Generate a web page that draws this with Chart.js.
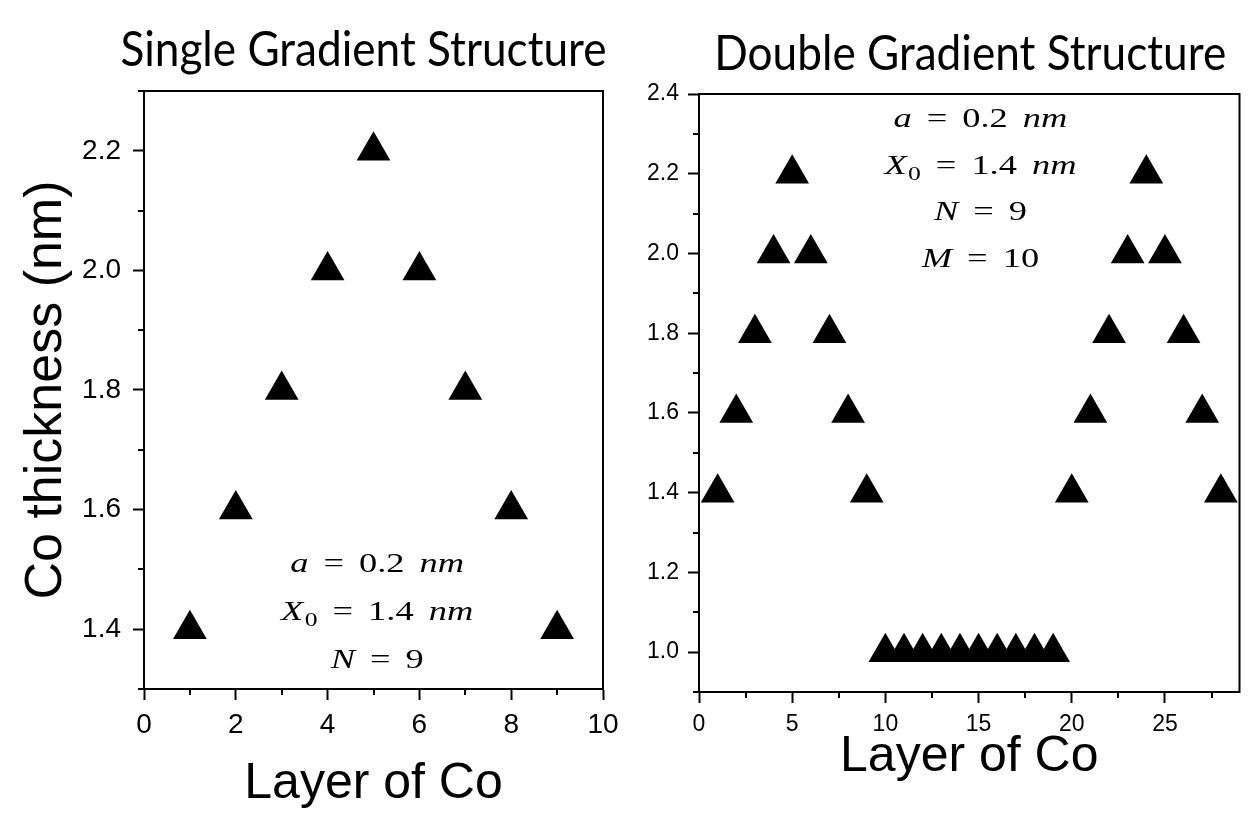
<!DOCTYPE html>
<html>
<head>
<meta charset="utf-8">
<script src="https://cdn.jsdelivr.net/npm/chart.js@4.4.1/dist/chart.umd.min.js"></script>
<style>
  html, body { margin: 0; padding: 0; background: #fff; }
  #wrap { position: relative; width: 1259px; height: 828px; overflow: hidden; background: #fff; }
  #single { position: absolute; left: 0; top: 0; }
  #double { position: absolute; left: 630px; top: 0; }
</style>
</head>
<body>
<div id="wrap">
  <canvas id="single" width="630" height="828"></canvas>
  <canvas id="double" width="629" height="828"></canvas>
</div>
<script>
// single gradient: thickness ramps up then down over N = 9 layers
const singleLayers = [1, 2, 3, 4, 5, 6, 7, 8, 9];
const singleThickness = [1.4, 1.6, 1.8, 2.0, 2.2, 2.0, 1.8, 1.6, 1.4];

// double gradient: two ramps separated by M = 10 thin layers
const doubleLayers = [1, 2, 3, 4, 5, 6, 7, 8, 9, 10, 11, 12, 13, 14, 15, 16, 17, 18, 19, 20,
  21, 22, 23, 24, 25, 26, 27, 28];
const doubleThickness = [1.4, 1.6, 1.8, 2.0, 2.2, 2.0, 1.8, 1.6, 1.4,
  1.0, 1.0, 1.0, 1.0, 1.0, 1.0, 1.0, 1.0, 1.0, 1.0,
  1.4, 1.6, 1.8, 2.0, 2.2, 2.0, 1.8, 1.6, 1.4];

// axis ranges
const singleXRange = [0, 10];
const singleYRange = [1.3, 2.3];
const doubleXRange = [0, 29];
const doubleYRange = [0.9, 2.4];

// labelled ticks
const singleXTicks = [0, 2, 4, 6, 8, 10];
const singleYTicks = [1.4, 1.6, 1.8, 2.0, 2.2];
const doubleXTicks = [0, 5, 10, 15, 20, 25];
const doubleYTicks = [1.0, 1.2, 1.4, 1.6, 1.8, 2.0, 2.2, 2.4];

// unlabelled minor ticks
const singleXMinor = [1, 3, 5, 7, 9];
const singleYMinor = [1.3, 1.5, 1.7, 1.9, 2.1, 2.3];
const doubleXMinor = [2.5, 7.5, 12.5, 17.5, 22.5, 27.5];
const doubleYMinor = [0.9, 1.1, 1.3, 1.5, 1.7, 1.9, 2.1, 2.3];

// parameter notes: [text, italic, unused, subscript] pieces per line
const singleNote = [
  [['a', 1], ['='], ['0.2'], ['nm', 1]],
  [['X', 1, 0, ['0']], ['='], ['1.4'], ['nm', 1]],
  [['N', 1], ['='], ['9']],
];
const doubleNote = [
  [['a', 1], ['='], ['0.2'], ['nm', 1]],
  [['X', 1, 0, ['0']], ['='], ['1.4'], ['nm', 1]],
  [['N', 1], ['='], ['9']],
  [['M', 1], ['='], ['10']],
];
// anchor of the first note line (data coordinates)
const singleNoteAt = { x: 5.08, y: 1.495 };
const doubleNoteAt = { x: 15.1, y: 2.3175 };

const SANS = "'Liberation Sans', Arial, sans-serif";
const SERIF = "'Liberation Serif', 'Times New Roman', serif";
const TITLE_FONT = "Lato, 'Open Sans', sans-serif";

function drawNote(ctx, lines, cx, baseY, lineGap) {
  const size = 27;
  const stretch = 1.35;
  const gap = 15;
  lines.forEach((pieces, li) => {
    // measure the line first so it can be centred
    const parts = [];
    let w = 0;
    pieces.forEach((p, i) => {
      ctx.font = `${p[1] ? 'italic ' : ''}${size}px ${SERIF}`;
      const mw = ctx.measureText(p[0]).width;
      let sw = 0;
      if (p[3]) {
        ctx.font = `${Math.round(size * 0.72)}px ${SERIF}`;
        sw = ctx.measureText(p[3][0]).width + 1;
      }
      parts.push({ p, x: w, mw });
      w += mw + sw + (i < pieces.length - 1 ? gap / stretch : 0);
    });
    const y = baseY + li * lineGap;
    ctx.save();
    ctx.translate(cx - (w * stretch) / 2, y);
    ctx.scale(stretch, 1);
    ctx.fillStyle = '#000';
    ctx.textBaseline = 'alphabetic';
    ctx.textAlign = 'left';
    parts.forEach(({ p, x, mw }) => {
      ctx.font = `${p[1] ? 'italic ' : ''}${size}px ${SERIF}`;
      ctx.fillText(p[0], x, 0);
      if (p[3]) {
        ctx.font = `${Math.round(size * 0.72)}px ${SERIF}`;
        ctx.fillText(p[3][0], x + mw + 1, 6);
      }
    });
    ctx.restore();
  });
}

function panelPlugin(cfg) {
  return {
    id: 'panel-' + cfg.id,
    afterDraw(chart) {
      const { ctx, chartArea: a, scales } = chart;
      ctx.save();
      ctx.strokeStyle = '#000';
      ctx.lineWidth = 2;
      ctx.strokeRect(a.left, a.top, a.right - a.left, a.bottom - a.top);

      // minor ticks, half length, pointing out
      ctx.beginPath();
      cfg.xMinor.forEach((v) => {
        const px = Math.round(scales.x.getPixelForValue(v));
        ctx.moveTo(px, a.bottom);
        ctx.lineTo(px, a.bottom + 6);
      });
      cfg.yMinor.forEach((v) => {
        const py = Math.round(scales.y.getPixelForValue(v));
        ctx.moveTo(a.left - 6, py);
        ctx.lineTo(a.left, py);
      });
      ctx.stroke();

      // panel heading
      ctx.save();
      ctx.fillStyle = '#000';
      ctx.textAlign = 'center';
      ctx.textBaseline = 'alphabetic';
      ctx.font = `${cfg.titleSize}px ${TITLE_FONT}`;
      ctx.translate((a.left + a.right) / 2 + cfg.titleShift, cfg.titleBase);
      ctx.scale(0.92, 1);
      ctx.fillText(cfg.title, 0, 0);
      ctx.restore();

      drawNote(ctx, cfg.note,
        scales.x.getPixelForValue(cfg.noteAt.x),
        scales.y.getPixelForValue(cfg.noteAt.y),
        cfg.noteGap);
      ctx.restore();
    },
  };
}

function buildChart(canvas, cfg) {
  const points = cfg.xs.map((x, i) => ({ x, y: cfg.ys[i] }));
  return new Chart(canvas, {
    type: 'scatter',
    data: {
      datasets: [{
        data: points,
        pointStyle: 'triangle',
        pointRadius: 19.5,
        pointHoverRadius: 19.5,
        backgroundColor: '#000',
        borderColor: '#000',
        borderWidth: 0,
        clip: false,
      }],
    },
    options: {
      responsive: false,
      animation: false,
      events: [],
      layout: { padding: cfg.padding },
      plugins: {
        legend: { display: false },
        tooltip: { enabled: false },
      },
      scales: {
        x: {
          type: 'linear',
          min: cfg.xRange[0],
          max: cfg.xRange[1],
          afterBuildTicks: (s) => { s.ticks = cfg.xTicks.map((value) => ({ value })); },
          afterFit: (s) => { s.height = cfg.xBox; },
          border: { display: true, color: '#000', width: 2 },
          grid: { drawOnChartArea: false, drawTicks: true, tickLength: 11, tickWidth: 2, tickColor: '#000' },
          ticks: {
            autoSkip: false,
            maxRotation: 0,
            padding: 8,
            color: '#000',
            font: { family: SANS, size: cfg.tickSize },
            callback: (v) => String(v),
          },
          title: {
            display: true,
            text: 'Layer of Co',
            color: '#000',
            font: { family: SANS, size: 50 },
            padding: { top: 0, bottom: cfg.xTitlePad },
          },
        },
        y: {
          type: 'linear',
          min: cfg.yRange[0],
          max: cfg.yRange[1],
          afterBuildTicks: (s) => { s.ticks = cfg.yTicks.map((value) => ({ value })); },
          afterFit: (s) => { s.width = cfg.yBox; },
          border: { display: true, color: '#000', width: 2 },
          grid: { drawOnChartArea: false, drawTicks: true, tickLength: 11, tickWidth: 2, tickColor: '#000' },
          ticks: {
            autoSkip: false,
            padding: cfg.yTickPad,
            color: '#000',
            font: { family: SANS, size: cfg.tickSize },
            callback: (v) => v.toFixed(1),
          },
          title: {
            display: !!cfg.yTitle,
            text: cfg.yTitle || '',
            color: '#000',
            font: { family: SANS, size: 52 },
            padding: { top: 15, bottom: 0 },
          },
        },
      },
    },
    plugins: [panelPlugin(cfg)],
  });
}

buildChart(document.getElementById('single'), {
  id: 'single',
  xs: singleLayers,
  ys: singleThickness,
  xRange: singleXRange,
  yRange: singleYRange,
  xTicks: singleXTicks,
  yTicks: singleYTicks,
  xMinor: singleXMinor,
  yMinor: singleYMinor,
  padding: { left: 0, right: 27, top: 91, bottom: 0 },
  xBox: 139,
  yBox: 144,
  tickSize: 28,
  yTickPad: 12,
  xTitlePad: 14,
  yTitle: 'Co thickness (nm)',
  title: 'Single Gradient Structure',
  titleSize: 48,
  titleShift: -10,
  titleBase: 66,
  note: singleNote,
  noteAt: singleNoteAt,
  noteGap: 48,
});

buildChart(document.getElementById('double'), {
  id: 'double',
  xs: doubleLayers,
  ys: doubleThickness,
  xRange: doubleXRange,
  yRange: doubleYRange,
  xTicks: doubleXTicks,
  yTicks: doubleYTicks,
  xMinor: doubleXMinor,
  yMinor: doubleYMinor,
  padding: { left: 0, right: 1, top: 94, bottom: 0 },
  xBox: 136,
  yBox: 69,
  tickSize: 23,
  yTickPad: 9,
  xTitlePad: 41,
  yTitle: null,
  title: 'Double Gradient Structure',
  titleSize: 48,
  titleShift: 1,
  titleBase: 70,
  note: doubleNote,
  noteAt: doubleNoteAt,
  noteGap: 46.7,
});
</script>
</body>
</html>
